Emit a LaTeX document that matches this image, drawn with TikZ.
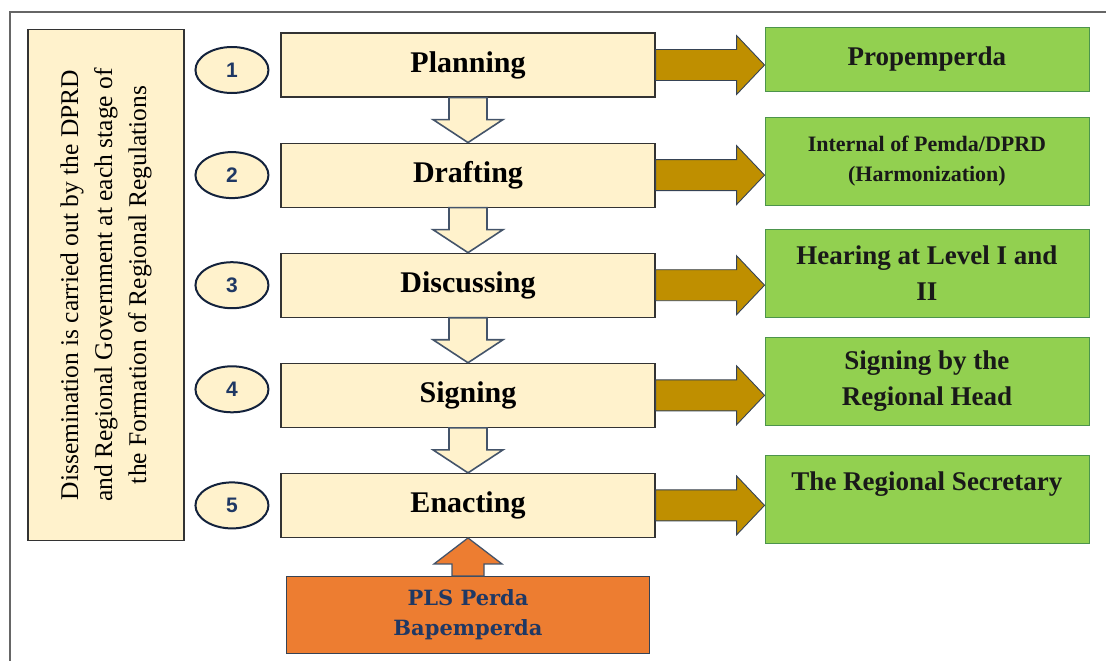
\documentclass[tikz,border=0pt]{standalone}
\usepackage{fontspec}
\setmainfont{Liberation Serif}
\setsansfont{Liberation Sans}
\newfontfamily\plsfont{DejaVu Serif}
\usepackage{tikz}
\usetikzlibrary{positioning,calc,shapes.geometric}

\definecolor{stagecream}{HTML}{FFF2CC}
\definecolor{arrowbrown}{HTML}{BF8F00}
\definecolor{resultgreen}{HTML}{92D050}
\definecolor{plsorange}{HTML}{ED7D31}
\definecolor{darknavy}{HTML}{1F3864}
\definecolor{edgegray}{HTML}{44546A}

% fat arrow: [style]{from}{to}{shaft half width}{head half width}{head length}
\newcommand{\blockarrow}[6][]{%
  \coordinate (ba-s) at (#2);
  \coordinate (ba-t) at (#3);
  \coordinate (ba-h) at ($(ba-t)!#6!(ba-s)$);
  \draw[#1] ($(ba-s)!#4!90:(ba-t)$) -- ($(ba-h)!#4!-90:(ba-s)$)
    -- ($(ba-h)!#5!-90:(ba-s)$) -- (ba-t)
    -- ($(ba-h)!#5!90:(ba-s)$) -- ($(ba-h)!#4!90:(ba-s)$)
    -- ($(ba-s)!#4!-90:(ba-t)$) -- cycle;}

\begin{document}
\begin{tikzpicture}[
      x=1pt, y=-1pt,
      stagebox/.style={draw=black!80,line width=1.1pt,fill=stagecream,
        minimum width=374pt,minimum height=64pt,inner sep=0pt,
        font=\fontsize{30}{36}\selectfont\bfseries},
      numoval/.style={ellipse,draw=darknavy!60!black,line width=2pt,fill=stagecream,
        minimum width=73pt,minimum height=46pt,inner sep=0pt,text=darknavy,
        font=\sffamily\bfseries\fontsize{21}{21}\selectfont},
      resultbox/.style={draw=green!40!black!70,line width=0.8pt,fill=resultgreen,
        minimum width=324pt,minimum height=88pt,inner sep=2pt,align=center,
        text=black!90,font=\bfseries\fontsize{27}{36}\selectfont},
      notebox/.style={draw=black!80,line width=1.1pt,fill=stagecream,rotate=90,
        minimum width=511pt,minimum height=156pt,align=center,
        font=\fontsize{25.5}{34}\selectfont},
      plsbox/.style={draw=edgegray!80!black,line width=1.3pt,fill=plsorange,
        minimum width=363pt,minimum height=77pt,align=center,text=darknavy,
        font=\plsfont\bfseries\fontsize{21}{30}\selectfont},
      outarrow/.style={draw=edgegray!80!black,line width=0.9pt,fill=arrowbrown},
      downarrow/.style={draw=edgegray,line width=1.6pt,fill=stagecream},
      uparrow/.style={draw=edgegray,line width=1.3pt,fill=plsorange},
      ]
      \useasboundingbox (0,0) rectangle (1106,661);
      \draw[black!60,line width=1.5pt] (10,661) -- (10,12) -- (1106,12);

      \node[notebox] (noteDissemination) at (106,285)
        {Dissemination is carried out by the DPRD\\
         and Regional Government at each stage of\\
         the Formation of Regional Regulations};

      \node[stagebox] (stagePlanning) at (468,65) {Planning};
      \node[stagebox,below=45pt of stagePlanning]   (stageDrafting)   {Drafting};
      \node[stagebox,below=45pt of stageDrafting]   (stageDiscussing) {Discussing};
      \node[stagebox,below=45pt of stageDiscussing] (stageSigning)    {Signing};
      \node[stagebox,below=45pt of stageSigning]    (stageEnacting)   {Enacting};

      \node[numoval,left=11pt of stagePlanning,yshift=-5pt] (numPlanning)   {1};
      \node[numoval,left=11pt of stageDrafting]             (numDrafting)   {2};
      \node[numoval,left=11pt of stageDiscussing]           (numDiscussing) {3};
      \node[numoval,left=11pt of stageSigning,yshift=6pt]   (numSigning)    {4};
      \node[numoval,left=11pt of stageEnacting]             (numEnacting)   {5};

      \node[resultbox,right=109pt of stagePlanning,yshift=6pt,minimum height=64pt]
        (outPlanning) {Propemperda};
      \node[resultbox,right=109pt of stageDrafting,yshift=14pt,
        font=\bfseries\fontsize{22}{30}\selectfont]
        (outDrafting) {Internal of Pemda/DPRD\\(Harmonization)};
      \node[resultbox,right=109pt of stageDiscussing,yshift=12pt]
        (outDiscussing) {Hearing at Level I and\\II};
      \node[resultbox,right=109pt of stageSigning,yshift=14pt]
        (outSigning) {Signing by the\\Regional Head};
      \node[resultbox,right=109pt of stageEnacting,yshift=6pt]
        (outEnacting) {The Regional Secretary\\\mbox{}};

      \node[plsbox,below=38pt of stageEnacting] (inputPls) {PLS Perda\\Bapemperda};

      % stage to stage
      \blockarrow[downarrow]{stagePlanning.south}{stagePlanning.south |- stageDrafting.north}{19pt}{35pt}{23pt}
      \blockarrow[downarrow]{stageDrafting.south}{stageDrafting.south |- stageDiscussing.north}{19pt}{35pt}{23pt}
      \blockarrow[downarrow]{stageDiscussing.south}{stageDiscussing.south |- stageSigning.north}{19pt}{35pt}{23pt}
      \blockarrow[downarrow]{stageSigning.south}{stageSigning.south |- stageEnacting.north}{19pt}{35pt}{23pt}

      % stage to result
      \blockarrow[outarrow]{stagePlanning.east}{stagePlanning.east -| outPlanning.west}{15.5pt}{29.5pt}{28pt}
      \blockarrow[outarrow]{stageDrafting.east}{stageDrafting.east -| outDrafting.west}{15.5pt}{29.5pt}{28pt}
      \blockarrow[outarrow]{stageDiscussing.east}{stageDiscussing.east -| outDiscussing.west}{15.5pt}{29.5pt}{28pt}
      \blockarrow[outarrow]{stageSigning.east}{stageSigning.east -| outSigning.west}{15.5pt}{29.5pt}{28pt}
      \blockarrow[outarrow]{stageEnacting.east}{stageEnacting.east -| outEnacting.west}{15.5pt}{29.5pt}{28pt}

      % input to enacting
      \blockarrow[uparrow]{inputPls.north}{inputPls.north |- stageEnacting.south}{16pt}{34pt}{26pt}
    \end{tikzpicture}
\end{document}
